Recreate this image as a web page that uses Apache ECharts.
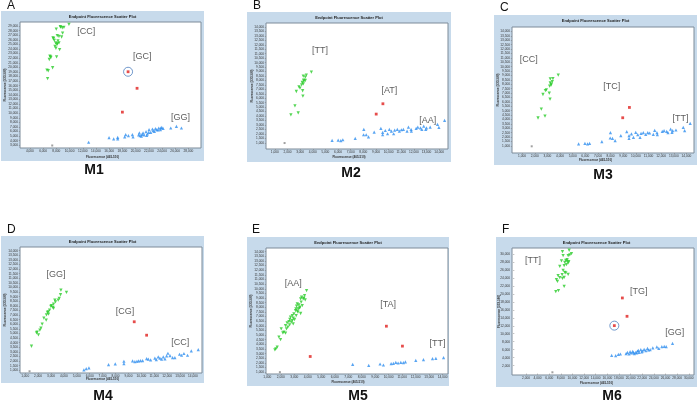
<!DOCTYPE html>
<html><head><meta charset="utf-8">
<script src="https://cdn.jsdelivr.net/npm/echarts@6/dist/echarts.min.js"></script>
<style>html,body{margin:0;padding:0;background:#fff}#c{width:700px;height:401px}</style>
</head><body><div id="c"></div>
<script>
// ---------- DATA ----------
const panelLetters = ['A','B','C','D','E','F'];
const markerNames = ['M1','M2','M3','M4','M5','M6'];
const chartTitle = 'Endpoint Fluorescence Scatter Plot';
const xAxisTitle = 'Fluorescence (465-510)';
const yAxisTitle = 'Fluorescence (533-580)';

// tick labels
const ticks1000to14000 = [1000,2000,3000,4000,5000,6000,7000,8000,9000,10000,11000,12000,13000,14000];
const ticks500 = [1000,1500,2000,2500,3000,3500,4000,4500,5000,5500,6000,6500,7000,7500,8000,8500,9000,9500,10000,10500,11000,11500,12000,12500,13000,13500,14000];
const aXTicks = [4000,6000,8000,10000,12000,14000,16000,18000,20000,22000,24000,26000,28000];
const aYTicks = [3000,4000,5000,6000,7000,8000,9000,10000,11000,12000,13000,14000,15000,16000,17000,18000,19000,20000,21000,22000,23000,24000,25000,26000,27000,28000,29000];
const fTicks = [2000,4000,6000,8000,10000,12000,14000,16000,18000,20000,22000,24000,26000,28000,30000];

// axis ranges
const aXRange=[2500,29900], aYRange=[2400,29900];
const bXRange=[300,14700],  bYRange=[300,14450];
const cXRange=[200,14600],  cYRange=[200,14500];
const dXRange=[600,14700],  dYRange=[700,14400];
const eXRange=[900,14400],  eYRange=[800,14400];
const fXRange=[-400,30900], fYRange=[-350,31500];

// Panel A (M1)
const aGreen=[[9910,29370],[8650,28790],[8900,28650],[9150,28720],[7990,28360],[8950,27490],[8140,26920],[8400,26770],[7490,26410],[8800,26630],[7690,25900],[8250,25760],[7890,25330],[8400,25330],[8090,24970],[7790,24600],[8500,23880],[7940,24170],[7030,22440],[7180,22150],[6930,21720],[8040,22290],[6580,19400],[6780,19260],[7440,19910],[6680,17530],[8600,28900],[7600,26300],[8150,25200],[7100,22300]];
const aRed=[[18860,19040],[20220,15430],[18000,10230]];
const aCircle=[[18860,19040]];
const aBlue=[[12890,3660],[15980,4670],[16680,4380],[17290,4740],[17290,4380],[18350,4810],[18500,5320],[18910,5100],[19510,5320],[19610,4810],[20570,5680],[20680,5100],[20980,5390],[21280,5250],[21580,5970],[21790,5460],[22040,6400],[22290,5820],[22550,6550],[22850,6040],[23200,6400],[23510,6760],[23760,6400],[23960,6910],[24160,6690],[25320,6760],[26180,7120],[26940,6760],[20470,5250],[21130,5680],[21990,5820],[22650,6180],[23000,6620],[23400,6330],[23810,6760],[20880,4960],[21680,5170]];
const aGray=[[7380,2950]];
const aLabels=[[12530,27850,'[CC]'],[21020,22290,'[GC]'],[26780,9000,'[GG]']];

// Panel B (M2)
const bGreen=[[3890,8930],[3490,8590],[3250,8480],[3410,8370],[3280,8030],[3410,7990],[3170,7770],[3250,7620],[3120,7510],[2910,7280],[2990,7130],[2700,6760],[3200,6840],[3220,6240],[2590,5150],[2850,4360],[2270,4140],[3300,7920]];
const bRed=[[9550,5380],[9020,4220]];
const bBlue=[[5530,1270],[6010,1300],[6220,1230],[6380,1340],[7360,1490],[8040,2500],[8020,1900],[8230,1900],[8410,1670],[8860,2200],[9390,2610],[9530,2160],[9530,1900],[9740,2380],[9920,2010],[10060,2500],[10220,2310],[10400,2010],[10480,2420],[10690,2500],[10850,2310],[11010,2460],[11170,2500],[11460,2310],[11570,2760],[11780,2500],[11800,2310],[12180,2610],[12310,2760],[12520,2680],[12630,2500],[12780,2870],[12940,2500],[13000,2680],[13290,2760],[13870,3060],[13980,2720],[14430,3510]];
const bGray=[[1770,970]];
const bLabels=[[4580,11320,'[TT]'],[10060,6870,'[AT]'],[13100,3540,'[AA]']];

// Panel C (M3)
const cGreen=[[3860,9030],[3440,8650],[3230,8610],[3390,8310],[3230,8160],[3310,8010],[3180,7780],[2920,7370],[2840,7290],[2650,6840],[3150,6990],[3210,6310],[2520,5180],[2810,4390],[2260,4170],[3290,7900]];
const cRed=[[9490,5370],[8960,4200]];
const cBlue=[[5470,1230],[5970,1300],[6180,1230],[6340,1300],[7310,1490],[7990,2510],[7970,1900],[8150,1870],[8360,1600],[8810,2170],[9280,2620],[9460,2170],[9460,1870],[9650,2360],[9810,1980],[9990,2550],[10150,2280],[10330,1980],[10410,2430],[10590,2510],[10780,2320],[10940,2510],[11090,2470],[11380,2320],[11490,2770],[11670,2510],[11700,2280],[12090,2660],[12230,2730],[12440,2660],[12540,2510],[12750,2920],[12860,2550],[12910,2730],[13170,2810],[13750,3110],[13860,2730],[14300,3560]];
const cGray=[[1760,960]];
const cLabels=[[1520,10760,'[CC]'],[8100,7750,'[TC]'],[13540,4130,'[TT]']];

// Panel D (M4)
const dGreen=[[4200,9460],[3770,9710],[3740,9210],[3640,8810],[3560,8630],[3300,8630],[3350,8440],[3200,8190],[3150,7830],[2990,7940],[3200,7720],[2890,7540],[2780,7350],[2810,7100],[2650,7030],[2630,6450],[2450,6670],[2320,6010],[2220,5580],[2140,5360],[1930,5140],[1880,5070],[2030,4850],[1490,3610],[3040,8010],[2730,7280]];
const dRed=[[9450,6270],[10410,4810]];
const dBlue=[[5550,1040],[5730,1180],[5940,1250],[7460,1620],[7980,1690],[8650,1980],[8650,1730],[9320,2020],[9500,1940],[9660,1980],[9790,2020],[9940,2050],[10100,2050],[10410,2270],[10540,2200],[10720,2130],[11050,2310],[11160,2160],[11310,2450],[11440,2310],[11570,2200],[11700,2450],[11830,2240],[12060,2850],[12220,2600],[12420,2380],[12600,2380],[12960,2740],[13120,2630],[13300,2820],[13580,2630],[13870,3110],[14410,3250],[11960,2560]];
const dGray=[[1340,890]];
const dLabels=[[3380,11390,'[GG]'],[8730,7350,'[CG]'],[13020,3980,'[CC]']];

// Panel E (M5)
const eGreen=[[3910,9800],[3760,9270],[3540,9090],[3710,8980],[3810,8800],[3470,8910],[3220,8370],[3340,8260],[3170,8120],[3420,8010],[3290,7830],[3090,7650],[3270,7470],[3470,7330],[2970,7290],[3140,7110],[2850,7110],[2720,6930],[2920,6820],[2670,6680],[3020,6680],[2850,6570],[2600,6460],[2770,6390],[2470,6320],[2920,6210],[2650,6110],[2350,6030],[2520,5850],[2420,5670],[2230,5310],[2350,5210],[2030,5670],[2150,5240],[1860,4780],[1980,4520],[1730,3700],[1630,3520],[1560,3410],[3590,8190],[3120,7830],[3510,8550],[3390,7900],[3220,7580],[3660,8910]];
const eRed=[[9830,5960],[11020,3810],[4180,2690]];
const eBlue=[[7330,1840],[8520,1740],[9360,1880],[9610,1770],[10180,1920],[10350,1950],[10530,2060],[10700,1990],[10900,2060],[11090,2020],[11240,2100],[12010,2280],[12580,2350],[13250,2460],[13500,2490],[14070,2560]];
const eGray=[[1930,1000]];
const eLabels=[[2920,10590,'[AA]'],[9960,8260,'[TA]'],[13620,4090,'[TT]']];

// Panel F (M6)
const fGreen=[[9430,30930],[8280,30590],[9830,30090],[9260,29590],[9540,29760],[8390,29590],[8850,28420],[9080,28170],[8680,27920],[9260,27750],[8110,28250],[8970,27330],[8570,27080],[7820,26910],[8390,25910],[8680,25410],[8220,24820],[9260,24910],[7530,24570],[7820,24070],[7240,23570],[8570,24150],[7420,23150],[8280,23900],[8570,21900],[7130,20560],[7590,20810],[8850,25240],[9080,28590],[9370,28080]];
const fRed=[[18580,18970],[19380,14370],[17200,12030]];
const fCircle=[[17200,12030]];
const fBlue=[[16740,4580],[17430,4500],[17890,4840],[18240,4920],[19220,5000],[19450,5340],[19730,4920],[20080,5170],[20370,5590],[20650,5000],[20880,5340],[21170,5670],[21460,5340],[21750,6010],[22040,5670],[22320,6090],[22610,5760],[22900,6340],[23360,6010],[23820,6430],[24510,6680],[24850,6340],[25370,6760],[25780,6840],[26120,6760],[27210,7600],[19910,5500],[20480,5250],[21340,5840],[21920,5420],[21060,5170],[23070,5920]];
const fGray=[[6550,330]];
const fLabels=[[3220,28320,'[TT]'],[21390,20650,'[TG]'],[27610,10190,'[GG]']];

// ---------- LAYOUT (pixels) ----------
const layout = [
  {bg:[1,11,203,150],  grid:[20,22,181,126],  letter:[7,6],    mark:[94,170],  titleY:17,  xTitleY:157, yTitleX:5},
  {bg:[247,12,204,150],grid:[266,23,182,126], letter:[253,6],  mark:[351,173], titleY:18,  xTitleY:157, yTitleX:252},
  {bg:[494,15,203,150],grid:[512,27,182,126], letter:[500,8],  mark:[603,175], titleY:21,  xTitleY:160, yTitleX:498},
  {bg:[1,236,203,147], grid:[20,247,182,126], letter:[7,230],  mark:[103,396], titleY:242, xTitleY:379, yTitleX:5},
  {bg:[247,237,202,149],grid:[266,248,182,126],letter:[252,230],mark:[358,396], titleY:243, xTitleY:382, yTitleX:251},
  {bg:[496,237,201,150],grid:[512,248,182,127],letter:[502,230],mark:[612,396], titleY:243, xTitleY:383, yTitleX:499}
];

const panels = [
  {green:aGreen,red:aRed,blue:aBlue,gray:aGray,labels:aLabels,circle:aCircle,xr:aXRange,yr:aYRange,xt:aXTicks,yt:aYTicks},
  {green:bGreen,red:bRed,blue:bBlue,gray:bGray,labels:bLabels,circle:null,xr:bXRange,yr:bYRange,xt:ticks1000to14000,yt:ticks500},
  {green:cGreen,red:cRed,blue:cBlue,gray:cGray,labels:cLabels,circle:null,xr:cXRange,yr:cYRange,xt:ticks1000to14000,yt:ticks500},
  {green:dGreen,red:dRed,blue:dBlue,gray:dGray,labels:dLabels,circle:null,xr:dXRange,yr:dYRange,xt:ticks1000to14000,yt:ticks500},
  {green:eGreen,red:eRed,blue:eBlue,gray:eGray,labels:eLabels,circle:null,xr:eXRange,yr:eYRange,xt:ticks1000to14000,yt:ticks500},
  {green:fGreen,red:fRed,blue:fBlue,gray:fGray,labels:fLabels,circle:fCircle,xr:fXRange,yr:fYRange,xt:fTicks,yt:fTicks}
];

const FONT = 'Liberation Sans, Arial, sans-serif';
function fmt(v){ return String(Math.round(v)).replace(/\B(?=(\d{3})+(?!\d))/g, ','); }
function txt(x,y,text,font,fill,align,valign,rot){
  const el = {type:'text', x:x, y:y, z:10, silent:true,
    style:{text:text, font:font, fill:fill, align:align, verticalAlign:valign, textAlign:align, textVerticalAlign:valign}};
  if(rot){ el.rotation = rot; }
  return el;
}

const grids=[], xAxes=[], yAxes=[], series=[], graphics=[];
panels.forEach((p,i)=>{
  const L = layout[i];
  const [bx,by,bw,bh] = L.bg; const [gl,gt,gw,gh] = L.grid;
  graphics.push({type:'rect', z:-10, silent:true, shape:{x:bx,y:by,width:bw,height:bh}, style:{fill:'#c7daeb'}});
  graphics.push(txt(bx+bw/2, L.titleY, chartTitle, 'bold 4px '+FONT, '#222', 'center','middle'));
  graphics.push(txt(bx+bw/2, L.xTitleY, xAxisTitle, 'bold 3px '+FONT, '#333', 'center','middle'));
  graphics.push(txt(L.yTitleX, gt+gh/2, yAxisTitle, 'bold 3px '+FONT, '#333', 'center','middle', Math.PI/2));
  graphics.push(txt(L.letter[0], L.letter[1], panelLetters[i], '12px '+FONT, '#111', 'left','middle'));
  graphics.push(txt(L.mark[0], L.mark[1], markerNames[i], 'bold 14px '+FONT, '#111', 'center','middle'));

  grids.push({left:gl, top:gt, width:gw, height:gh, show:true, backgroundColor:'#ffffff', borderColor:'#7d8b99', borderWidth:1, containLabel:false});
  xAxes.push({type:'value', gridIndex:i, min:p.xr[0], max:p.xr[1],
    axisLine:{show:false}, splitLine:{show:false},
    axisTick:{show:true, length:1.2, customValues:p.xt, lineStyle:{color:'#777', width:0.5}},
    axisLabel:{customValues:p.xt, formatter:fmt, fontSize:3.2, color:'#333', margin:2, fontFamily:FONT}});
  yAxes.push({type:'value', gridIndex:i, min:p.yr[0], max:p.yr[1],
    axisLine:{show:false}, splitLine:{show:false},
    axisTick:{show:true, length:1.2, customValues:p.yt, lineStyle:{color:'#777', width:0.5}},
    axisLabel:{customValues:p.yt, formatter:fmt, fontSize:3.2, color:'#333', margin:2, fontFamily:FONT}});

  const base = {type:'scatter', xAxisIndex:i, yAxisIndex:i, silent:true};
  series.push(Object.assign({}, base, {data:p.blue, symbol:'triangle', symbolSize:3.2, itemStyle:{color:'#2f8fef'}}));
  series.push(Object.assign({}, base, {data:p.green, symbol:'triangle', symbolRotate:180, symbolSize:3.3, itemStyle:{color:'#2bcc2b'}}));
  series.push(Object.assign({}, base, {data:p.red, symbol:'rect', symbolSize:2.8, itemStyle:{color:'#e0201e'}}));
  series.push(Object.assign({}, base, {data:p.gray, symbol:'rect', symbolSize:2, itemStyle:{color:'#8a8a8a'}}));
  if(p.circle){
    series.push(Object.assign({}, base, {data:p.circle, symbol:'circle', symbolSize:9, z:3,
      itemStyle:{color:'rgba(0,0,0,0)', borderColor:'#4f7fbf', borderWidth:1}}));
  }
  series.push(Object.assign({}, base, {
    data:p.labels.map(l=>({value:[l[0],l[1]], name:l[2]})),
    symbol:'circle', symbolSize:1, itemStyle:{color:'rgba(0,0,0,0)'}, z:4,
    label:{show:true, position:'inside', formatter:'{b}', fontSize:9, color:'#333333', fontFamily:FONT}
  }));
});

const chart = echarts.init(document.getElementById('c'), null, {renderer:'canvas'});
chart.setOption({
  animation:false,
  backgroundColor:'#ffffff',
  grid:grids, xAxis:xAxes, yAxis:yAxes, series:series, graphic:graphics
});
</script></body></html>
